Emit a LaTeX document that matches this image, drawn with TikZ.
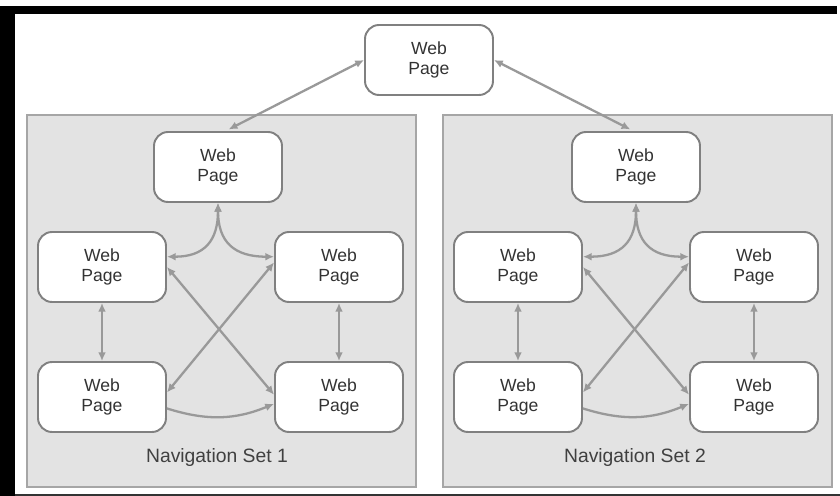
\documentclass[tikz,border=0pt]{standalone}
\usepackage{fontspec}
\setmainfont{Liberation Sans}
\usetikzlibrary{arrows.meta}

\tikzset{
  page/.style={draw=black!50, line width=1.1pt, fill=white, rounded corners=0.28cm,
    minimum width=2.56cm, minimum height=1.4cm, align=center, text=black!80,
    font=\fontsize{10}{11.5}\selectfont},
  navset/.style={draw=black!35, line width=1pt, fill=black!11},
  navlabel/.style={text=black!75, font=\fontsize{11}{13}\selectfont},
  link/.style={draw=black!40, line width=1.3pt, {Latex[length=5pt,width=4.5pt]}-{Latex[length=5pt,width=4.5pt]}},
  onelink/.style={draw=black!40, line width=1.3pt, -{Latex[length=5pt,width=4.5pt]}}
}

\begin{document}
\begin{tikzpicture}[x=0.02cm, y=0.02cm]
            \useasboundingbox (0,0) rectangle (840,-496);
            \fill[white] (0,0) rectangle (840,-496);

            % frame
            \fill[black] (0,-6) rectangle (837,-14);
            \fill[black] (0,-6) rectangle (15,-496);
            \fill[black!80] (15,-494) rectangle (840,-496);

            % the two sets
            \draw[navset] (27,-115) rectangle (416,-487);
            \draw[navset] (443,-115) rectangle (832,-487);

            \node[page] (top) at (429,-60) {Web\\Page};

            % set 1
            \node[page] (a1) at (218,-167) {Web\\Page};
            \node[page] (b1) at (102,-267) {Web\\Page};
            \node[page] (c1) at (339,-267) {Web\\Page};
            \node[page] (d1) at (102,-397) {Web\\Page};
            \node[page] (e1) at (339,-397) {Web\\Page};
            \node[navlabel] (nav1) at (217,-458) {Navigation Set 1};

            % set 2
            \node[page] (a2) at (636,-167) {Web\\Page};
            \node[page] (b2) at (518,-267) {Web\\Page};
            \node[page] (c2) at (754,-267) {Web\\Page};
            \node[page] (d2) at (518,-397) {Web\\Page};
            \node[page] (e2) at (754,-397) {Web\\Page};
            \node[navlabel] (nav2) at (635,-458) {Navigation Set 2};

            \draw[link, shorten >=2pt] (top.west) -- ([xshift=0.15cm]a1.north);
            \draw[link, shorten >=2pt] (top.east) -- ([xshift=-0.05cm]a2.north);

            \draw[link] (a1.south) to[out=-90, in=0, looseness=1.3] (b1.9);
            \draw[link] (a1.south) to[out=-90, in=180, looseness=1.3] (c1.171);
            \draw[link] (b1.south) -- (d1.north);
            \draw[link] (c1.south) -- (e1.north);
            \draw[link] (b1.east) -- (e1.178);
            \draw[link] (c1.176) -- (d1.4);
            \draw[onelink] (d1.-10) to[bend right=20] (e1.186);

            \draw[link] (a2.south) to[out=-90, in=0, looseness=1.3] (b2.9);
            \draw[link] (a2.south) to[out=-90, in=180, looseness=1.3] (c2.171);
            \draw[link] (b2.south) -- (d2.north);
            \draw[link] (c2.south) -- (e2.north);
            \draw[link] (b2.east) -- (e2.178);
            \draw[link] (c2.176) -- (d2.4);
            \draw[onelink] (d2.-10) to[bend right=20] (e2.186);
\end{tikzpicture}
\end{document}
